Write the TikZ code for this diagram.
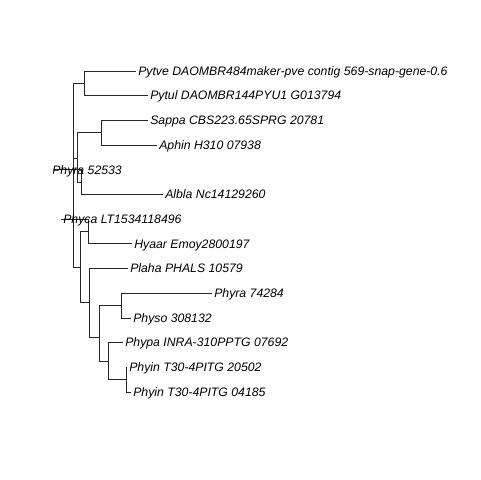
\documentclass[tikz,border=0pt]{standalone}
\usepackage{fontspec}
\setmainfont{Liberation Sans}
\begin{document}
\begin{tikzpicture}[x=0.75pt,y=-0.75pt,
  branch/.style={draw=black!85, line width=0.55pt},
  taxon/.style={anchor=base west, inner sep=0pt, font=\fontsize{9.2}{10}\selectfont\itshape, yshift=-3.2pt}]
\useasboundingbox (0,0) rectangle (480,480);
\fill[white] (0,0) rectangle (480,480);

% tip rows
\def\ya{71}\def\yb{95.7}\def\yc{120.4}\def\yd{145.1}\def\ye{169.8}\def\yf{194.5}\def\yg{219.1}
\def\yh{243.8}\def\yi{268.5}\def\yj{293.2}\def\yk{317.9}\def\yl{342.6}\def\ym{367.3}\def\yn{392}

% internal nodes
\coordinate (root) at (73,175.3);
\coordinate (nPyt) at (84,83.4);
\coordinate (nMid) at (77,158.1);
\coordinate (nSA) at (101,132.8);
\coordinate (nPA) at (81,182.2);
\coordinate (nLow) at (80,267.1);
\coordinate (nPH) at (88,231.5);
\coordinate (nP2) at (89,302.7);
\coordinate (nP3) at (99,336.9);
\coordinate (nRS) at (121,305.6);
\coordinate (nPI) at (108,361.0);
\coordinate (nII) at (126,379.7);

% tips
\coordinate (tPytve) at (136,\ya);
\coordinate (tPytul) at (148,\yb);
\coordinate (tSappa) at (148,\yc);
\coordinate (tAphin) at (157,\yd);
\coordinate (tPhyraA) at (50,\ye);
\coordinate (tAlbla) at (163,\yf);
\coordinate (tPhyca) at (61,\yg);
\coordinate (tHyaar) at (132,\yh);
\coordinate (tPlaha) at (128,\yi);
\coordinate (tPhyraB) at (212,\yj);
\coordinate (tPhyso) at (131,\yk);
\coordinate (tPhypa) at (123,\yl);
\coordinate (tPhyinA) at (127,\ym);
\coordinate (tPhyinB) at (131,\yn);

% branches
\path[branch] (root) |- (nPyt);
\path[branch] (root) |- (nMid);
\path[branch] (root) |- (nLow);
\path[branch] (nPyt) |- (tPytve);
\path[branch] (nPyt) |- (tPytul);
\path[branch] (nMid) |- (nSA);
\path[branch] (nMid) |- (nPA);
\path[branch] (nSA) |- (tSappa);
\path[branch] (nSA) |- (tAphin);
\path[branch] (nPA) |- (tAlbla);
\path[branch] (nLow) |- (nPH);
\path[branch] (nLow) |- (nP2);
\path[branch] (nPH) |- (tPhyca);
\path[branch] (nPH) |- (tHyaar);
\path[branch] (nP2) |- (tPlaha);
\path[branch] (nP2) |- (nP3);
\path[branch] (nP3) |- (nRS);
\path[branch] (nP3) |- (nPI);
\path[branch] (nRS) |- (tPhyraB);
\path[branch] (nRS) |- (tPhyso);
\path[branch] (nPI) |- (tPhypa);
\path[branch] (nPI) |- (nII);
\path[branch] (nII) |- (tPhyinA);
\path[branch] (nII) |- (tPhyinB);

% the short branch whose label runs past the left edge of the plot
\begin{scope}
  \clip (54,150) rectangle (480,190);
  \path[branch] (nPA) |- (tPhyraA);
  \node[taxon] (lPhyraA) at ([xshift=1.5pt]tPhyraA) {Phyra 52533};
\end{scope}

% labels
\node[taxon] (lPytve) at ([xshift=1.5pt]tPytve) {Pytve DAOMBR484maker-pve contig 569-snap-gene-0.6};
\node[taxon] (lPytul) at ([xshift=1.5pt]tPytul) {Pytul DAOMBR144PYU1 G013794};
\node[taxon] (lSappa) at ([xshift=1.5pt]tSappa) {Sappa CBS223.65SPRG 20781};
\node[taxon] (lAphin) at ([xshift=1.5pt]tAphin) {Aphin H310 07938};
\node[taxon] (lAlbla) at ([xshift=1.5pt]tAlbla) {Albla Nc14129260};
\node[taxon] (lPhyca) at ([xshift=1.5pt]tPhyca) {Phyca LT1534118496};
\node[taxon] (lHyaar) at ([xshift=1.5pt]tHyaar) {Hyaar Emoy2800197};
\node[taxon] (lPlaha) at ([xshift=1.5pt]tPlaha) {Plaha PHALS 10579};
\node[taxon] (lPhyraB) at ([xshift=1.5pt]tPhyraB) {Phyra 74284};
\node[taxon] (lPhyso) at ([xshift=1.5pt]tPhyso) {Physo 308132};
\node[taxon] (lPhypa) at ([xshift=1.5pt]tPhypa) {Phypa INRA-310PPTG 07692};
\node[taxon] (lPhyinA) at ([xshift=1.5pt]tPhyinA) {Phyin T30-4PITG 20502};
\node[taxon] (lPhyinB) at ([xshift=1.5pt]tPhyinB) {Phyin T30-4PITG 04185};
\end{tikzpicture}
\end{document}
